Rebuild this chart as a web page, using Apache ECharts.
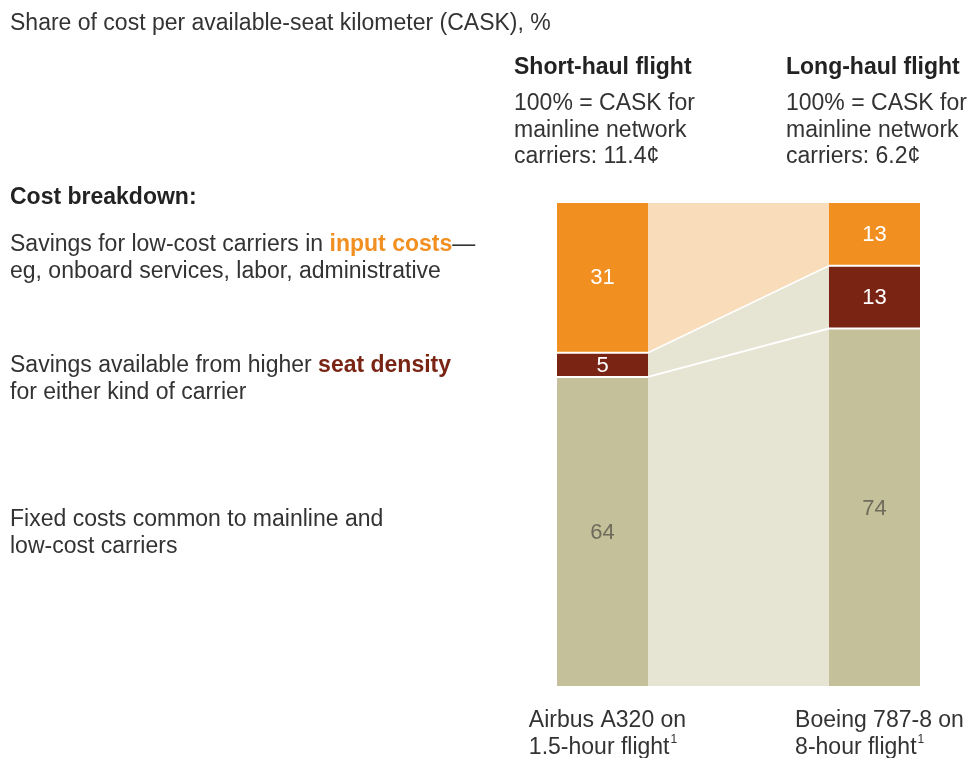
<!DOCTYPE html>
<html>
<head>
<meta charset="utf-8">
<script src="https://cdn.jsdelivr.net/npm/echarts@6/dist/echarts.min.js"></script>
<style>
html,body{margin:0;padding:0;background:#fff;}
#chart{width:971px;height:758px;}
</style>
</head>
<body>
<div id="chart"></div>
<script>
// ---- data ----
const categories = ['Airbus A320 on', 'Boeing 787-8 on'];
const categorySub = ['1.5-hour flight', '8-hour flight'];
const fixedCosts = [64, 74];
const seatDensity = [5, 13];
const inputCosts = [31, 13];
const headers = ['Short-haul flight', 'Long-haul flight'];
const headerNotes = ['100% = CASK for\nmainline network\ncarriers: 11.4¢', '100% = CASK for\nmainline network\ncarriers: 6.2¢'];

// ---- style ----
const FONT = '"Liberation Sans", Arial, Helvetica, sans-serif';
const TXT = '#333333';
const C_INPUT = '#F18F21';
const C_SEAT = '#7A2514';
const C_FIXED = '#C4C09A';
const C_INPUT_LIGHT = '#F9DDBB';
const C_FIXED_LIGHT = '#E6E4D3';
const BAR_W = 91;
const LH = 26.5;
const DY = 2;

const chart = echarts.init(document.getElementById('chart'), null, {renderer: 'canvas'});

const barData = categories.map((c, i) => [i, fixedCosts[i], seatDensity[i], inputCosts[i]]);

function bandRender(params, api) {
  const y = v => api.coord([0, v])[1];
  const xL = api.coord([0, 0])[0] + BAR_W / 2;
  const xR = api.coord([1, 0])[0] - BAR_W / 2;
  const s0 = fixedCosts[0] + seatDensity[0];
  const s1 = fixedCosts[1] + seatDensity[1];
  const top = fixedCosts[0] + seatDensity[0] + inputCosts[0];
  return {
    type: 'group',
    children: [
      {type: 'polygon', shape: {points: [[xL, y(top)], [xR, y(top)], [xR, y(s1)], [xL, y(s0)]]}, style: {fill: C_INPUT_LIGHT}},
      {type: 'polygon', shape: {points: [[xL, y(s0)], [xR, y(s1)], [xR, y(0)], [xL, y(0)]]}, style: {fill: C_FIXED_LIGHT}},
      {type: 'line', shape: {x1: xL, y1: y(s0), x2: xR, y2: y(s1)}, style: {stroke: '#fff', lineWidth: 1.5}},
      {type: 'line', shape: {x1: xL, y1: y(fixedCosts[0]), x2: xR, y2: y(fixedCosts[1])}, style: {stroke: '#fff', lineWidth: 2}}
    ]
  };
}

function barRender(params, api) {
  const i = api.value(0);
  const f = api.value(1), s = api.value(2), inp = api.value(3);
  const cx = api.coord([i, 0])[0];
  const y = v => api.coord([i, v])[1];
  const segs = [
    {lo: 0, hi: f, color: C_FIXED, label: String(f), lc: '#6E6B5C'},
    {lo: f, hi: f + s, color: C_SEAT, label: String(s), lc: '#ffffff'},
    {lo: f + s, hi: f + s + inp, color: C_INPUT, label: String(inp), lc: '#ffffff'}
  ];
  const children = [];
  segs.forEach(sg => {
    const yTop = y(sg.hi) + (sg.hi < 100 ? 1 : 0);
    const yBot = y(sg.lo) - (sg.lo > 0 ? 1 : 0);
    children.push({type: 'rect', shape: {x: cx - BAR_W / 2, y: yTop, width: BAR_W, height: yBot - yTop}, style: {fill: sg.color}});
    children.push({type: 'text', style: {text: sg.label, x: cx, y: (yTop + yBot) / 2 + 1, align: 'center', verticalAlign: 'middle', fill: sg.lc, font: '22px ' + FONT}});
  });
  // category caption under the bar
  children.push({
    type: 'text',
    style: {
      text: '{a|' + categories[i] + '}\n{a|' + categorySub[i] + '}{sup|1}',
      x: cx + 5, y: y(0) + 20 + 1.5,
      align: 'center', verticalAlign: 'top',
      fill: TXT, font: '23px ' + FONT, lineHeight: LH,
      rich: {
        a: {align: 'left', fontSize: 23, fontFamily: FONT, fill: TXT, lineHeight: LH},
        sup: {align: 'left', fontSize: 12, fontFamily: FONT, fill: TXT, verticalAlign: 'top', lineHeight: LH, padding: [0, 0, 0, 1]}
      }
    }
  });
  // header above the bar
  children.push({
    type: 'text',
    style: {text: headers[i], x: cx - BAR_W / 2 - 43, y: 66 + DY, align: 'left', verticalAlign: 'middle', fill: '#222', font: 'bold 23px ' + FONT}
  });
  children.push({
    type: 'text',
    style: {text: headerNotes[i], x: cx - BAR_W / 2 - 43, y: 102 + DY - LH / 2, align: 'left', verticalAlign: 'top', fill: TXT, font: '23px ' + FONT, lineHeight: LH}
  });
  return {type: 'group', children: children};
}

const leftText = (txt, top, rich) => ({
  type: 'text', left: 10, top: top + DY,
  style: {text: txt, fill: TXT, font: '23px ' + FONT, lineHeight: LH, rich: rich || {}}
});

const option = {
  animation: false,
  backgroundColor: '#ffffff',
  grid: {left: 557, right: 51, top: 203, bottom: 72},
  xAxis: {type: 'value', min: -0.1673, max: 1.1673, show: false},
  yAxis: {type: 'value', min: 0, max: 100, show: false},
  graphic: [
    leftText('Share of cost per available-seat kilometer (CASK), %', 22 - LH / 2),
    {type: 'text', left: 10, top: 196 + DY - LH / 2, style: {text: 'Cost breakdown:', fill: '#222', font: 'bold 23px ' + FONT, lineHeight: LH}},
    leftText('Savings for low-cost carriers in {o|input costs}—\neg, onboard services, labor, administrative', 243 - LH / 2,
      {o: {fill: C_INPUT, fontWeight: 'bold', fontSize: 23, fontFamily: FONT, lineHeight: LH}}),
    leftText('Savings available from higher {r|seat density}\nfor either kind of carrier', 364 - LH / 2,
      {r: {fill: C_SEAT, fontWeight: 'bold', fontSize: 23, fontFamily: FONT, lineHeight: LH}}),
    leftText('Fixed costs common to mainline and\nlow-cost carriers', 518 - LH / 2)
  ],
  series: [
    {type: 'custom', renderItem: bandRender, data: [[0]], silent: true, z: 1},
    {type: 'custom', renderItem: barRender, data: barData, silent: true, z: 2, clip: false}
  ]
};
chart.setOption(option);
</script>
</body>
</html>
